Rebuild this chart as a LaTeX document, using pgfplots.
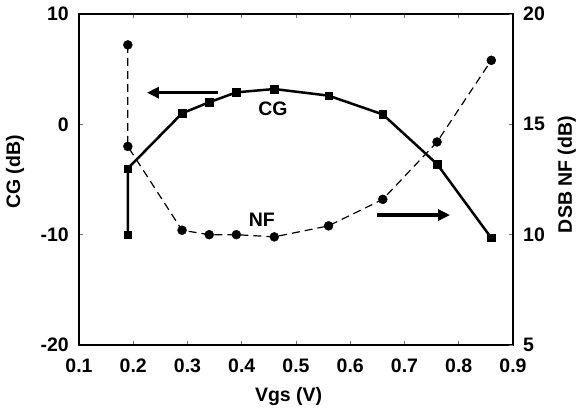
\documentclass[border=0pt]{standalone}
\usepackage{fontspec}
\setmainfont{Liberation Sans}
\usepackage{pgfplots}
\pgfplotsset{compat=1.18}
\usetikzlibrary{arrows.meta}
\begin{document}
\begin{tikzpicture}
\path[use as bounding box] (-79pt,-72pt) rectangle (500pt,345pt);
\pgfplotsset{
 mystyle/.style={
  scale only axis, width=434pt, height=331pt, at={(0,0)}, anchor=south west,
  xmin=0.1, xmax=0.9,
  /pgf/number format/assume math mode=true,
  tick align=inside, major tick length=4pt,
  every tick/.style={black!55, line width=0.6pt},
  axis line style={line width=1.4pt},
  ticklabel style={font=\fontsize{19.5}{21}\selectfont\bfseries, inner sep=0pt},
  label style={font=\fontsize{19.5}{21}\selectfont\bfseries},
  clip=false,
 }
}
\begin{axis}[mystyle,
  ymin=-20, ymax=10,
  xtick={0.1,0.2,0.3,0.4,0.5,0.6,0.7,0.8,0.9},
  xticklabels={0.1,0.2,0.3,0.4,0.5,0.6,0.7,0.8,0.9},
  ytick={-20,-10,0,10},
  yticklabels={-20,-10,0,10},
  xtick pos=both, ytick pos=left,
  xticklabel shift=14pt, yticklabel shift=10pt,
  xlabel={Vgs (V)},
  xlabel style={at={(axis description cs:0.483,-0.157)}, anchor=center},
  ylabel={CG (dB)},
  ylabel style={at={(axis description cs:-0.147,0.523)}, anchor=center},
]
\addplot[black, line width=2.5pt, mark=square*, mark size=3.7pt, mark options={solid, line width=0.4pt}]
coordinates {(0.19,-10) (0.19,-4) (0.29,1.0) (0.34,2.0) (0.39,2.9) (0.46,3.2) (0.56,2.6) (0.66,0.9) (0.76,-3.6) (0.86,-10.3)};
\draw[line width=3.6pt, -{Triangle[length=12pt,width=11pt]}] (axis cs:0.356,2.87) -- (axis cs:0.2253,2.87);
\draw[line width=3.6pt, -{Triangle[length=12pt,width=11pt]}] (axis cs:0.649,-8.22) -- (axis cs:0.784,-8.22);
\node[font=\fontsize{19.5}{21}\selectfont\bfseries] at (axis cs:0.4576,1.39) {CG};
\node[font=\fontsize{19.5}{21}\selectfont\bfseries] at (axis cs:0.437,-8.67) {NF};
\end{axis}
\begin{axis}[mystyle,
  ymin=5, ymax=20,
  axis x line=none, axis y line*=right,
  ytick={5,10,15,20},
  yticklabels={5,10,15,20},
  yticklabel shift=10pt,
  ylabel={DSB NF (dB)},
  ylabel style={at={(axis description cs:1.124,0.515)}, anchor=center, rotate=0},
]
\addplot[black, line width=1.2pt, dash pattern=on 8pt off 5pt, mark=*, mark size=4.5pt, mark options={solid, line width=0.4pt}]
coordinates {(0.19,18.6) (0.19,14.0) (0.29,10.2) (0.34,10.0) (0.39,10.0) (0.46,9.9) (0.56,10.4) (0.66,11.6) (0.76,14.2) (0.86,17.9)};
\end{axis}
\end{tikzpicture}
\end{document}
